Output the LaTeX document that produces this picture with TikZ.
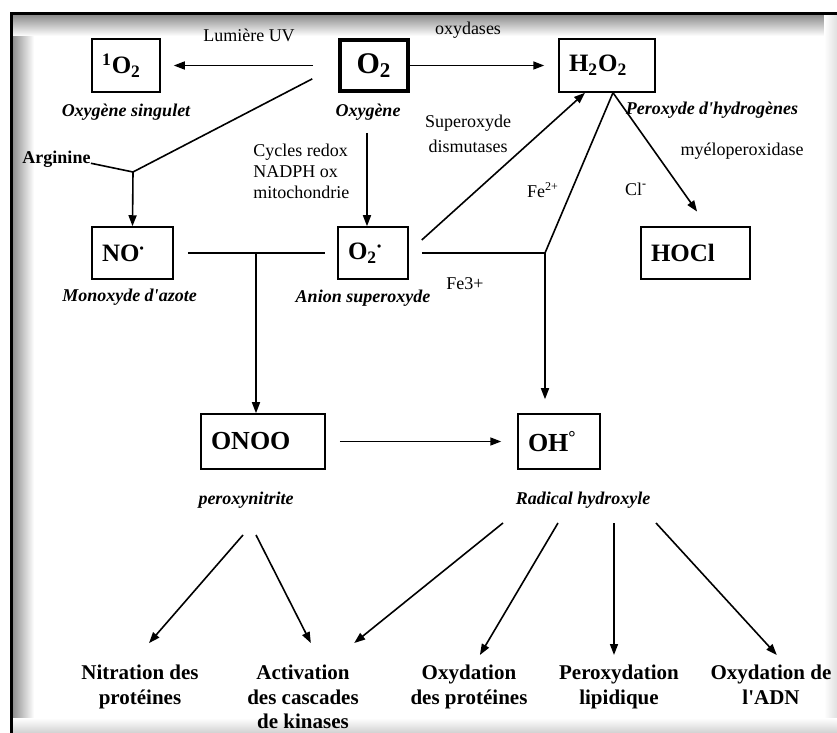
\documentclass[tikz,border=0pt]{standalone}
\usepackage{fontspec}
\setmainfont{Liberation Serif}
\usetikzlibrary{arrows.meta}

\begin{document}
\begin{tikzpicture}[x=0.5pt, y=-0.5pt,
    box/.style={draw, line width=0.75pt, inner xsep=5pt, inner ysep=0pt, align=left,
        minimum height=26.5pt, font=\bfseries\fontsize{12.5}{13}\selectfont},
    species/.style={inner sep=0pt, font=\bfseries\itshape\fontsize{9}{10}\selectfont},
    note/.style={inner sep=0pt, font=\fontsize{9}{9.5}\selectfont},
    effect/.style={inner sep=0pt, anchor=north, align=center, font=\bfseries\fontsize{10.5}{12.25}\selectfont},
    link/.style={line width=0.8pt},
    arr/.style={link, -{Triangle[length=5.5pt,width=4pt]}}]
\useasboundingbox (0,0) rectangle (837,733);
\shade[left color=black!45, right color=white] (12,15) rectangle (34,733);
\shade[top color=black!45, bottom color=white] (12,15) rectangle (837,36);
\shade[left color=white, right color=black!12] (824,15) rectangle (837,733);
\shade[top color=white, bottom color=black!18] (12,718) rectangle (837,733);
\draw[line width=1.5pt] (11,733) -- (11,14) -- (837,14);

\node[box, text width=24pt] (so) at (126,65.5) {\textsuperscript{1}O\textsubscript{2}};
\node[box, line width=2pt, text width=24pt, align=center, minimum height=25.5pt,
    font=\bfseries\fontsize{15}{15}\selectfont] (o2) at (374,65.5) {O\textsubscript{2}};
\node[box, text width=38pt] (hpo) at (607,65.5) {H\textsubscript{2}O\textsubscript{2}};
\node[box, text width=30.5pt, minimum height=26pt] (no) at (132.5,253) {NO\textsuperscript{\fontsize{6}{6}\selectfont•}};
\node[box, text width=25pt, minimum height=26pt] (sup) at (373,253) {O\textsubscript{2}\textsuperscript{\fontsize{6}{6}\selectfont•}};
\node[box, text width=44.5pt, minimum height=26pt] (hocl) at (695.5,253) {HOCl};
\node[box, text width=52pt, minimum height=27.5pt, font=\bfseries\fontsize{13}{13}\selectfont] (onoo) at (263,441.5) {ONOO};
\node[box, text width=31pt, minimum height=27.5pt, font=\bfseries\fontsize{13}{13}\selectfont] (oh) at (559,441.5) {OH\textsuperscript{°}};

\node[species] (so-name) at (126,112) {Oxygène singulet};
\node[species] (o2-name) at (368,112) {Oxygène};
\node[species] (hpo-name) at (712,110) {Peroxyde d\textquotesingle hydrogènes};
\node[species] (no-name) at (129.5,297) {Monoxyde d\textquotesingle azote};
\node[species] (sup-name) at (363,298) {Anion superoxyde};
\node[species] (onoo-name) at (246,500) {peroxynitrite};
\node[species] (oh-name) at (583,500) {Radical hydroxyle};

\node[note] (uv) at (249,35) {Lumière UV};
\node[note] (oxy) at (468,30) {oxydases};
\node[note, font=\bfseries\fontsize{9}{10}\selectfont] (arg) at (56.5,159) {Arginine};
\node[note, align=left, anchor=west, font=\fontsize{9}{10.5}\selectfont] (redox) at (253,171) {Cycles redox\\NADPH ox\\mitochondrie};
\node[note, align=center, font=\fontsize{9}{12.5}\selectfont] (sod) at (468,134) {Superoxyde\\dismutases};
\node[note] (mpo) at (742,151) {myéloperoxidase};
\node[note] (fe2) at (543,190) {Fe\textsuperscript{2+}};
\node[note] (cl) at (636,189) {Cl\textsuperscript{\textbf{-}}};
\node[note] (fe3) at (465,284) {Fe3+};

\node[effect] (nit) at (140,665) {Nitration des\\protéines};
\node[effect] (act) at (303,665) {Activation\\des cascades\\de kinases};
\node[effect] (oxp) at (469,665) {Oxydation\\des protéines};
\node[effect] (per) at (619,665) {Peroxydation\\lipidique};
\node[effect] (adn) at (771,665) {Oxydation de\\l\textquotesingle ADN};

\coordinate (argj) at (133,172);
\coordinate (nj) at (256,253);
\coordinate (fej) at (545,253);
\coordinate (pn1) at (243,535);
\coordinate (pn2) at (256,535);
\coordinate (rh1) at (503,523);
\coordinate (rh2) at (558,523);
\coordinate (rh3) at (614,523);
\coordinate (rh4) at (656,523);

\draw[arr, shorten <=12.5pt, shorten >=6.5pt] (o2.west) -- (so.east);
\draw[arr, shorten >=7pt] (o2.east) -- (hpo.west);
\draw[link, shorten >=14.5pt] (argj) -- (o2.west);
\draw[link] (arg.base east) -- (argj);
\draw[arr] (argj) -- (no.north);
\draw[arr] ([shift={(-3.5pt,-20pt)}]o2.south) -- ([xshift=-3pt]sup.north);
\draw[link, shorten <=7pt, shorten >=6pt] (no.east) -- (sup.west);
\draw[arr] (nj) -- (nj |- onoo.north);
\draw[arr] ([shift={(6.5pt,6.5pt)}]sup.east) -- ([xshift=-11pt]hpo.south);
\draw[link] ([xshift=3pt]hpo.south) -- (fej);
\draw[link, shorten <=6.5pt] (sup.east) -- (fej);
\draw[arr, shorten >=7pt] (fej) -- (fej |- oh.north);
\draw[arr, shorten >=9pt] ([xshift=3pt]hpo.south) -- ([xshift=6pt]hocl.north);
\draw[arr, shorten <=7pt, shorten >=8pt] (onoo.east) -- (oh.west);

\draw[arr, shorten >=14.5pt] (pn1) -- ([xshift=-5pt]nit.north);
\draw[arr, shorten >=12.3pt] (pn2) -- ([xshift=9.5pt]act.north);
\draw[arr, shorten >=17.5pt] (rh1) -- ([xshift=12pt]act.north);
\draw[arr, shorten >=5.8pt] (rh2) -- ([xshift=2.5pt]oxp.north);
\draw[arr, shorten >=5pt] (rh3) -- ([xshift=-2.5pt]per.north);
\draw[arr, shorten >=6.8pt] (rh4) -- ([xshift=7.5pt]adn.north);
\end{tikzpicture}
\end{document}
